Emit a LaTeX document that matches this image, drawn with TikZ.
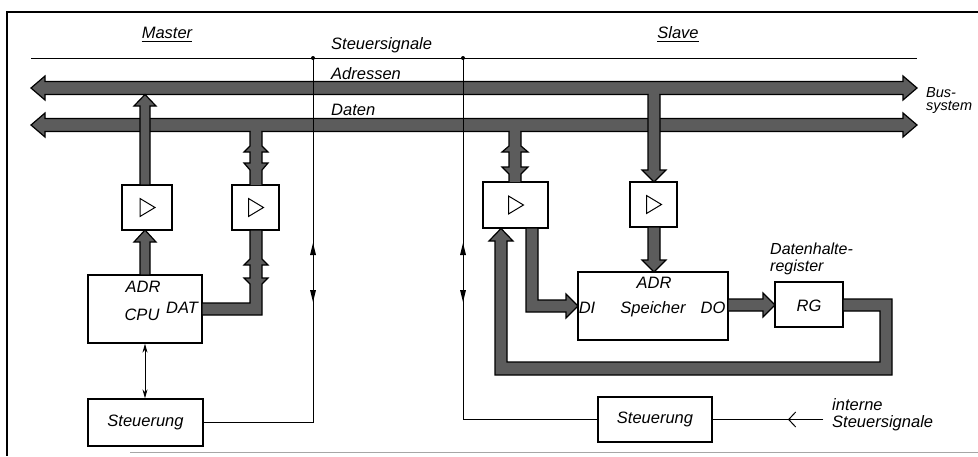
\documentclass[tikz,border=0pt]{standalone}
\usepackage{fontspec}
\setmainfont{Liberation Sans}
\usetikzlibrary{arrows.meta}
\definecolor{busgray}{gray}{0.36}
\begin{document}
\begin{tikzpicture}[x=1pt,y=-1pt,
  box/.style={draw, line width=1.3pt, inner sep=0pt, font=\fontsize{16.5}{18}\selectfont\itshape},
  lbl/.style={font=\fontsize{16.5}{18}\selectfont\itshape, inner sep=0pt},
  bus/.style={fill=busgray, draw=black, line width=1.2pt, line join=miter},
  busline/.style={draw=black, line width=1.2pt, line join=miter},
  sig/.style={line width=1pt},
  amp/.style={line width=1pt, line join=miter},
  tip/.style={{Stealth[length=9pt,width=5pt]}-{Stealth[length=9pt,width=5pt]}}
]
\useasboundingbox (0,0) rectangle (978,456);
% frame
\draw[line width=1.2pt] (978,12) -- (7,12) -- (7,456);
\draw[black!35, line width=0.8pt] (130,452) -- (978,452);

% boxes
\node[box, minimum width=50pt, minimum height=45pt] (bufA) at (147,207.5) {};
\node[box, minimum width=47pt, minimum height=45pt] (bufB) at (255.5,207.5) {};
\node[box, minimum width=114pt, minimum height=68pt] (cpu) at (145,309) {};
\node[box, minimum width=115pt, minimum height=47pt] (stM) at (145.5,422.5) {Steuerung};
\node[box, minimum width=65pt, minimum height=46pt] (bufC) at (515.5,205) {};
\node[box, minimum width=47pt, minimum height=45pt] (bufD) at (653.5,204.5) {};
\node[box, minimum width=150pt, minimum height=68pt] (mem) at (653,306) {};
\node[box, minimum width=68pt, minimum height=45pt] (rg) at (809,304.5) {};
\node[box, minimum width=114pt, minimum height=45pt] (stS) at (655,419.5) {Steuerung};

% amplifier triangles
\foreach \b in {bufA,bufB,bufC,bufD}{
  \draw[amp] ([xshift=-7pt,yshift=9pt]\b.center) -- ([xshift=8pt]\b.center) -- ([xshift=-7pt,yshift=-9pt]\b.center) -- cycle;
}

% buses
\filldraw[bus] (31,88) -- (45,76) -- (45,81.5) -- (903,81.5) -- (903,76) -- (917,88) -- (903,100) -- (903,94.5) -- (45,94.5) -- (45,100) -- cycle;
\filldraw[bus] (31,125) -- (45,113) -- (45,118.5) -- (903,118.5) -- (903,113) -- (917,125) -- (903,137) -- (903,131.5) -- (45,131.5) -- (45,137) -- cycle;

% master: buffer -> address bus
\filldraw[bus] (140,185) -- (140,106) -- (134,106) -- (145,94.5) -- (156,106) -- (150,106) -- (150,185) -- cycle;
% master: CPU -> buffer
\filldraw[bus] (140,275) -- (140,242) -- (134,242) -- (145,230) -- (156,242) -- (150,242) -- (150,275) -- cycle;
% master: data bus <-> buffer
\fill[busgray] (250.6,125) rectangle (261.4,132.5);
\fill[busgray] (250,131.5) -- (250,146) -- (244,152) -- (250,152) -- (250,163) -- (244,163) -- (250,170) -- (250,185) -- (262,185) -- (262,170) -- (268,163) -- (262,163) -- (262,152) -- (268,152) -- (262,146) -- (262,131.5) -- cycle;
\draw[busline] (250,131.5) -- (250,146) -- (244,152) -- (250,152) -- (250,163) -- (244,163) -- (250,170) -- (250,185);
\draw[busline] (262,185) -- (262,170) -- (268,163) -- (262,163) -- (262,152) -- (268,152) -- (262,146) -- (262,131.5);
% master: buffer <-> CPU DAT
\filldraw[bus] (250,230) -- (250,259) -- (244,265) -- (250,265) -- (250,278) -- (244,278) -- (250,284) -- (250,303) -- (202,303) -- (202,315) -- (262,315) -- (262,284) -- (268,278) -- (262,278) -- (262,265) -- (268,265) -- (262,259) -- (262,230) -- cycle;

% slave: data bus <-> buffer
\fill[busgray] (509.6,125) rectangle (520.4,132.5);
\fill[busgray] (509,131.5) -- (509,146) -- (502,152) -- (509,152) -- (509,167) -- (502,167) -- (509,174) -- (509,182) -- (521,182) -- (521,174) -- (528,167) -- (521,167) -- (521,152) -- (528,152) -- (521,146) -- (521,131.5) -- cycle;
\draw[busline] (509,131.5) -- (509,146) -- (502,152) -- (509,152) -- (509,167) -- (502,167) -- (509,174) -- (509,182);
\draw[busline] (521,182) -- (521,174) -- (528,167) -- (521,167) -- (521,152) -- (528,152) -- (521,146) -- (521,131.5);
% slave: address bus -> buffer
\fill[busgray] (648.6,88) rectangle (659.4,95.5);
\fill[busgray] (648,94.5) -- (648,170) -- (642,170) -- (654,182) -- (666,170) -- (660,170) -- (660,94.5) -- cycle;
\draw[busline] (648,94.5) -- (648,170) -- (642,170) -- (654,182) -- (666,170) -- (660,170) -- (660,94.5);
% slave: buffer -> ADR
\filldraw[bus] (648,227) -- (648,260) -- (642,260) -- (654,272) -- (666,260) -- (660,260) -- (660,227) -- cycle;
% slave: buffer -> DI
\filldraw[bus] (526,228) -- (526,312) -- (566,312) -- (566,318) -- (578,306) -- (566,294) -- (566,300) -- (538,300) -- (538,228) -- cycle;
% DO -> RG
\filldraw[bus] (728,299) -- (763,299) -- (763,293) -- (775,305) -- (763,317) -- (763,311) -- (728,311) -- cycle;
% RG -> loop -> buffer
\filldraw[bus] (843,299) -- (892,299) -- (892,375) -- (495,375) -- (495,241) -- (489,241) -- (501,228.5) -- (513,241) -- (507,241) -- (507,362) -- (880,362) -- (880,311) -- (843,311) -- cycle;

% control signal lines
\coordinate (j1) at (313,58);
\coordinate (j2) at (463,58);
\draw[sig] (31,58) -- (917,58);
\fill (j1) circle (2pt);
\fill (j2) circle (2pt);
\draw[sig] (stM.east) -| (j1);
\draw[sig] (stS.west) -| (j2);
\foreach \xx in {313,463}{
  \fill (\xx,243) -- (\xx-3,255) -- (\xx+3,255) -- cycle;
  \fill (\xx,302) -- (\xx-3,290) -- (\xx+3,290) -- cycle;
}
\draw[sig, tip] (cpu.south) -- (cpu.south |- stM.north);
\coordinate (ext) at (823,419.5);
\coordinate (barb) at (788,419.5);
\draw[sig] (ext) -- (stS.east);
\draw[sig, -{Straight Barb[length=7pt,width=15pt]}] (ext) -- (barb);

% labels
\node[lbl, anchor=base] (master) at (167,38) {Master};
\draw[line width=1.3pt] ([yshift=-3.5pt]master.base west) -- ([yshift=-3.5pt]master.base east);
\node[lbl, anchor=base] (slave) at (678,38) {Slave};
\draw[line width=1.3pt] ([yshift=-3.5pt]slave.base west) -- ([yshift=-3.5pt]slave.base east);
\node[lbl, anchor=base west] (ss) at (331,49) {Steuersignale};
\node[lbl, anchor=base west] (adr) at (331,79) {Adressen};
\node[lbl, anchor=base west] (dat) at (331,115) {Daten};
\node[lbl, anchor=north west, align=left, font=\fontsize{14.5}{13}\selectfont\itshape] (bus) at (926,87.5) {Bus-\\system};
\node[lbl, anchor=base] (cadr) at (143,292) {ADR};
\node[lbl, anchor=base] (ccpu) at (142,320) {CPU};
\node[lbl, anchor=base] (cdat) at (182,313) {DAT};
\node[lbl, anchor=base] (madr) at (654,288) {ADR};
\node[lbl, anchor=base] (mdi) at (587,313) {DI};
\node[lbl, anchor=base] (msp) at (653,313) {Speicher};
\node[lbl, anchor=base] (mdo) at (713,313) {DO};
\node[lbl, anchor=base] (rgt) at (809,311) {RG};
\node[lbl, anchor=north west, align=left, font=\fontsize{16}{16.5}\selectfont\itshape] (dh) at (770,243) {Datenhalte-\\register};
\node[lbl, anchor=north west, align=left, font=\fontsize{16.5}{17}\selectfont\itshape] (intern) at (832,398.5) {interne\\Steuersignale};
\end{tikzpicture}
\end{document}
